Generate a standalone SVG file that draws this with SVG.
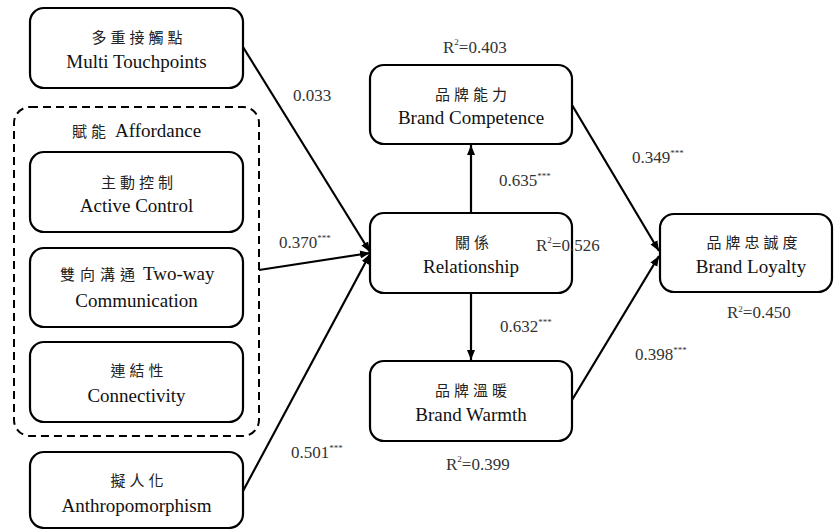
<svg xmlns="http://www.w3.org/2000/svg" width="834" height="529" viewBox="0 0 834 529">
<defs>
<marker id="ah" viewBox="0 0 10 10" refX="10" refY="5" markerWidth="10" markerHeight="10" markerUnits="userSpaceOnUse" orient="auto">
<path d="M0,1 L10,5 L0,9 Z" fill="#000"/>
</marker>
<style>
.box{fill:#fff;stroke:#000;stroke-width:2.2}
.dash{fill:none;stroke:#000;stroke-width:2;stroke-dasharray:8,5}
.zh{font-family:Noto Sans CJK TC, Noto Sans CJK SC, sans-serif;font-size:15px;letter-spacing:4px;fill:#222;text-anchor:middle}
.zs{font-family:Noto Sans CJK TC, Noto Sans CJK SC, sans-serif;font-size:15px;letter-spacing:4px;fill:#222}
.en{font-family:Liberation Serif, serif;font-size:19px;fill:#111;text-anchor:middle}
.es{font-family:Liberation Serif, serif;font-size:19px;fill:#111}
.lb{font-family:Liberation Serif, serif;font-size:17px;fill:#333}
.sup{font-size:9px}
.ln{stroke:#000;stroke-width:2.2;fill:none;marker-end:url(#ah)}
</style>
</defs>
<rect width="834" height="529" fill="#fff"/>
<g id="affordance">
<rect class="dash" x="14" y="107" width="245" height="329" rx="16"/>
<text class="zs" x="72" y="137">賦能</text>
<text class="es" x="115" y="137">Affordance</text>
</g>
<g id="multi">
<rect class="box" x="30" y="8" width="213" height="80" rx="14"/>
<text class="zh" x="139" y="43">多重接觸點</text>
<text class="en" x="136.5" y="68">Multi Touchpoints</text>
</g>
<g id="active">
<rect class="box" x="30" y="152" width="213" height="80" rx="14"/>
<text class="zh" x="139" y="188">主動控制</text>
<text class="en" x="136.5" y="212">Active Control</text>
</g>
<g id="twoway">
<rect class="box" x="30" y="248" width="213" height="79" rx="14"/>
<text class="zs" x="60" y="280" style="letter-spacing:5px">雙向溝通</text>
<text class="es" x="143" y="280">Two-way</text>
<text class="en" x="136.5" y="307">Communication</text>
</g>
<g id="connectivity">
<rect class="box" x="30" y="342" width="213" height="80" rx="14"/>
<text class="zh" x="139" y="376">連結性</text>
<text class="en" x="136.5" y="402">Connectivity</text>
</g>
<g id="anthro">
<rect class="box" x="30" y="452" width="213" height="76" rx="14"/>
<text class="zh" x="139" y="486">擬人化</text>
<text class="en" x="136.5" y="512">Anthropomorphism</text>
</g>
<g id="competence">
<rect class="box" x="370" y="65" width="202" height="79" rx="14"/>
<text class="zh" x="473" y="100">品牌能力</text>
<text class="en" x="471" y="124">Brand Competence</text>
</g>
<g id="relationship">
<rect class="box" x="370" y="213" width="202" height="80" rx="14"/>
<text class="zh" x="474" y="248">關係</text>
<text class="en" x="471" y="273">Relationship</text>
</g>
<g id="warmth">
<rect class="box" x="370" y="361" width="202" height="80" rx="14"/>
<text class="zh" x="473" y="396">品牌溫暖</text>
<text class="en" x="471" y="421">Brand Warmth</text>
</g>
<g id="loyalty">
<rect class="box" x="660" y="214" width="172" height="78" rx="14"/>
<text class="zh" x="754" y="248">品牌忠誠度</text>
<text class="en" x="751" y="273">Brand Loyalty</text>
</g>
<g id="connectors">
<line class="ln" x1="243" y1="47" x2="370" y2="252"/>
<line class="ln" x1="259" y1="270" x2="370" y2="253"/>
<line class="ln" x1="243" y1="491" x2="370" y2="254"/>
<line class="ln" x1="471" y1="213" x2="471" y2="145"/>
<line class="ln" x1="471" y1="293" x2="471" y2="360"/>
<line class="ln" x1="572" y1="105" x2="659" y2="251"/>
<line class="ln" x1="572" y1="400" x2="659" y2="256"/>
</g>
<g id="labels">
<text class="lb" x="293" y="101">0.033</text>
<text class="lb" x="279" y="248">0.370<tspan class="sup" dy="-7">***</tspan></text>
<text class="lb" x="291" y="458">0.501<tspan class="sup" dy="-7">***</tspan></text>
<text class="lb" x="499" y="186">0.635<tspan class="sup" dy="-7">***</tspan></text>
<text class="lb" x="500" y="332">0.632<tspan class="sup" dy="-7">***</tspan></text>
<text class="lb" x="632" y="163">0.349<tspan class="sup" dy="-7">***</tspan></text>
<text class="lb" x="635" y="360">0.398<tspan class="sup" dy="-7">***</tspan></text>
<text class="lb" x="443" y="53">R<tspan class="sup" dy="-8">2</tspan><tspan dy="8">=0.403</tspan></text>
<text class="lb" x="536" y="251">R<tspan class="sup" dy="-8">2</tspan><tspan dy="8">=0.526</tspan></text>
<text class="lb" x="727" y="318">R<tspan class="sup" dy="-6">2</tspan><tspan dy="6">=0.450</tspan></text>
<text class="lb" x="446" y="470">R<tspan class="sup" dy="-8">2</tspan><tspan dy="8">=0.399</tspan></text>
</g>
</svg>
